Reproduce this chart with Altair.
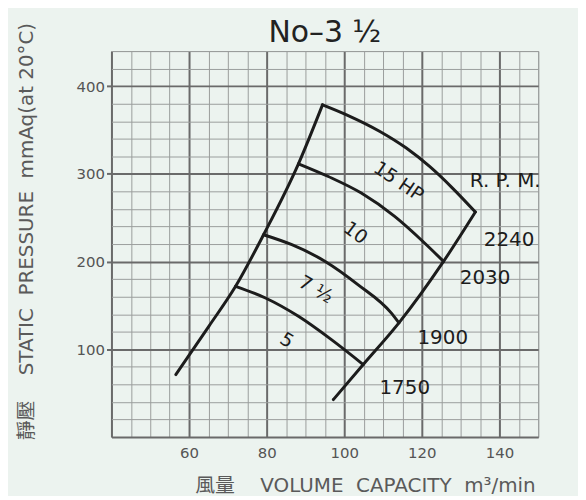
import altair as alt
import pandas as pd

# ---- data ----
curve_names = ["limit_left", "limit_right", "2240", "2030", "1900", "1750"]
limit_left_x = [56.6, 65.1, 72.0, 79.2, 88.2, 94.4]
limit_left_y = [71.2, 126.2, 171.8, 230.6, 311.5, 378.7]
limit_right_x = [97.2, 104.9, 114.1, 125.6, 133.8]
limit_right_y = [42.7, 82.6, 130.1, 200.2, 256.5]
rpm2240_x = [94.4, 100.6, 109.2, 116.0, 122.0, 127.9, 133.8]
rpm2240_y = [378.7, 367.3, 348.3, 329.4, 308.4, 283.8, 256.5]
rpm2030_x = [88.2, 95.9, 104.4, 113.0, 120.7, 125.6]
rpm2030_y = [311.5, 297.0, 278.1, 251.5, 221.2, 200.2]
rpm1900_x = [79.2, 86.5, 95.1, 103.6, 112.1, 114.1]
rpm1900_y = [230.6, 219.2, 200.2, 173.5, 141.5, 130.1]
rpm1750_x = [72.0, 79.7, 88.2, 96.7, 104.9]
rpm1750_y = [171.8, 158.5, 137.6, 111.0, 82.6]

hp_labels = ["15 HP", "10", "7 ½", "5"]
hp_x = [114.0, 102.9, 92.7, 85.2]
hp_y = [291.3, 232.6, 168.0, 110.3]
hp_angle = [34, 37, 30, 32]

rpm_labels = ["R. P. M.", "2240", "2030", "1900", "1750"]
rpm_x = [141.5, 142.5, 136.3, 125.4, 115.6]
rpm_y = [292.0, 225.0, 181.3, 113.0, 56.0]

x_grid = list(range(40, 151, 5))
y_grid = list(range(0, 441, 20))

# ---- tables ----
xs = [limit_left_x, limit_right_x, rpm2240_x, rpm2030_x, rpm1900_x, rpm1750_x]
ys = [limit_left_y, limit_right_y, rpm2240_y, rpm2030_y, rpm1900_y, rpm1750_y]
rows = []
for name, cx, cy in zip(curve_names, xs, ys):
    for i, (a, b) in enumerate(zip(cx, cy)):
        rows.append({"curve": name, "i": i, "x": a, "y": b})
curves = pd.DataFrame(rows)
hp_df = pd.DataFrame({"t": hp_labels, "x": hp_x, "y": hp_y, "a": hp_angle})
rpm_df = pd.DataFrame({"t": rpm_labels, "x": rpm_x, "y": rpm_y})

FONT = 'DejaVu Sans, "Noto Sans CJK TC"'
MAJOR = "#6a6a6a"
MINOR = "#9a9d9c"
SP2 = "\u00a0\u00a0"
SP4 = "\u00a0\u00a0\u00a0\u00a0"

x_enc = alt.X(
    "x:Q",
    scale=alt.Scale(domain=[40, 150], nice=False, zero=False),
    axis=alt.Axis(
        values=x_grid,
        tickCount=200,
        format="d",
        labelExpr="datum.value % 20 === 0 && datum.value >= 60 ? datum.label : ''",
        labelOverlap=False,
        grid=True,
        gridColor={"condition": {"test": "datum.value % 20 === 0", "value": MAJOR}, "value": MINOR},
        gridWidth={"condition": {"test": "datum.value % 20 === 0", "value": 2}, "value": 1},
        ticks=False,
        domain=False,
        labelFont=FONT,
        labelFontSize=15,
        labelColor="#555555",
        labelPadding=9,
        title="風量" + SP4 + "VOLUME" + SP2 + "CAPACITY" + SP2 + "m³/min",
        titleFont=FONT,
        titleFontSize=20,
        titleFontWeight="normal",
        titleColor="#5a5a5a",
        titleX=426,
        titleY=49,
        titleAlign="right",
        titleBaseline="middle",
    ),
)
y_enc = alt.Y(
    "y:Q",
    scale=alt.Scale(domain=[0, 440], nice=False, zero=False),
    axis=alt.Axis(
        values=y_grid,
        tickCount=200,
        format="d",
        labelExpr="datum.value % 100 === 0 && datum.value > 0 ? datum.label : ''",
        labelOverlap=False,
        grid=True,
        gridColor={"condition": {"test": "datum.value % 100 === 0", "value": MAJOR}, "value": MINOR},
        gridWidth={"condition": {"test": "datum.value % 100 === 0", "value": 2}, "value": 1},
        ticks=True,
        tickSize=5,
        tickWidth=2,
        tickColor=MAJOR,
        tickOpacity={"condition": {"test": "datum.value % 100 === 0 && datum.value > 0", "value": 1}, "value": 0},
        domain=False,
        labelFont=FONT,
        labelFontSize=15,
        labelColor="#555555",
        labelPadding=2,
        title="靜壓" + SP4 + "STATIC" + SP2 + "PRESSURE" + SP2 + "mmAq(at 20°C)",
        titleFont=FONT,
        titleFontSize=20,
        titleFontWeight="normal",
        titleColor="#5a5a5a",
        titleAngle=270,
        titleX=-85,
        titleY=181,
        titleAlign="center",
        titleBaseline="middle",
    ),
)

lines = alt.Chart(curves).mark_line(
    color="#1c1c1c", strokeWidth=3, interpolate="monotone", strokeCap="round", strokeJoin="round"
).encode(x=x_enc, y=y_enc, detail="curve:N", order="i:Q")

hp_text = alt.Chart(hp_df).mark_text(
    font=FONT, fontSize=19, color="#1c1c1c", align="center", baseline="middle"
).encode(x="x:Q", y="y:Q", text="t:N", angle=alt.Angle("a:Q", scale=None))

rpm_text = alt.Chart(rpm_df).mark_text(
    font=FONT, fontSize=20, color="#1c1c1c", align="center", baseline="middle"
).encode(x="x:Q", y="y:Q", text="t:N")

chart = (
    alt.layer(lines, hp_text, rpm_text)
    .properties(
        width=429,
        height=388,
        autosize=alt.AutoSizeParams(type="none"),
        padding={"left": 104, "top": 42, "right": 40, "bottom": 58},
        background="#ecf3ef",
        title=alt.TitleParams(
            "No–3 ½",
            font=FONT,
            fontSize=30,
            fontWeight="normal",
            color="#222222",
            anchor="middle",
            frame="group",
            baseline="alphabetic",
            offset=9,
            dy=59,
        ),
    )
    .configure_view(stroke=MINOR, strokeWidth=1)
)

chart.save("out.html", embed_options={"renderer": "svg", "actions": False})
